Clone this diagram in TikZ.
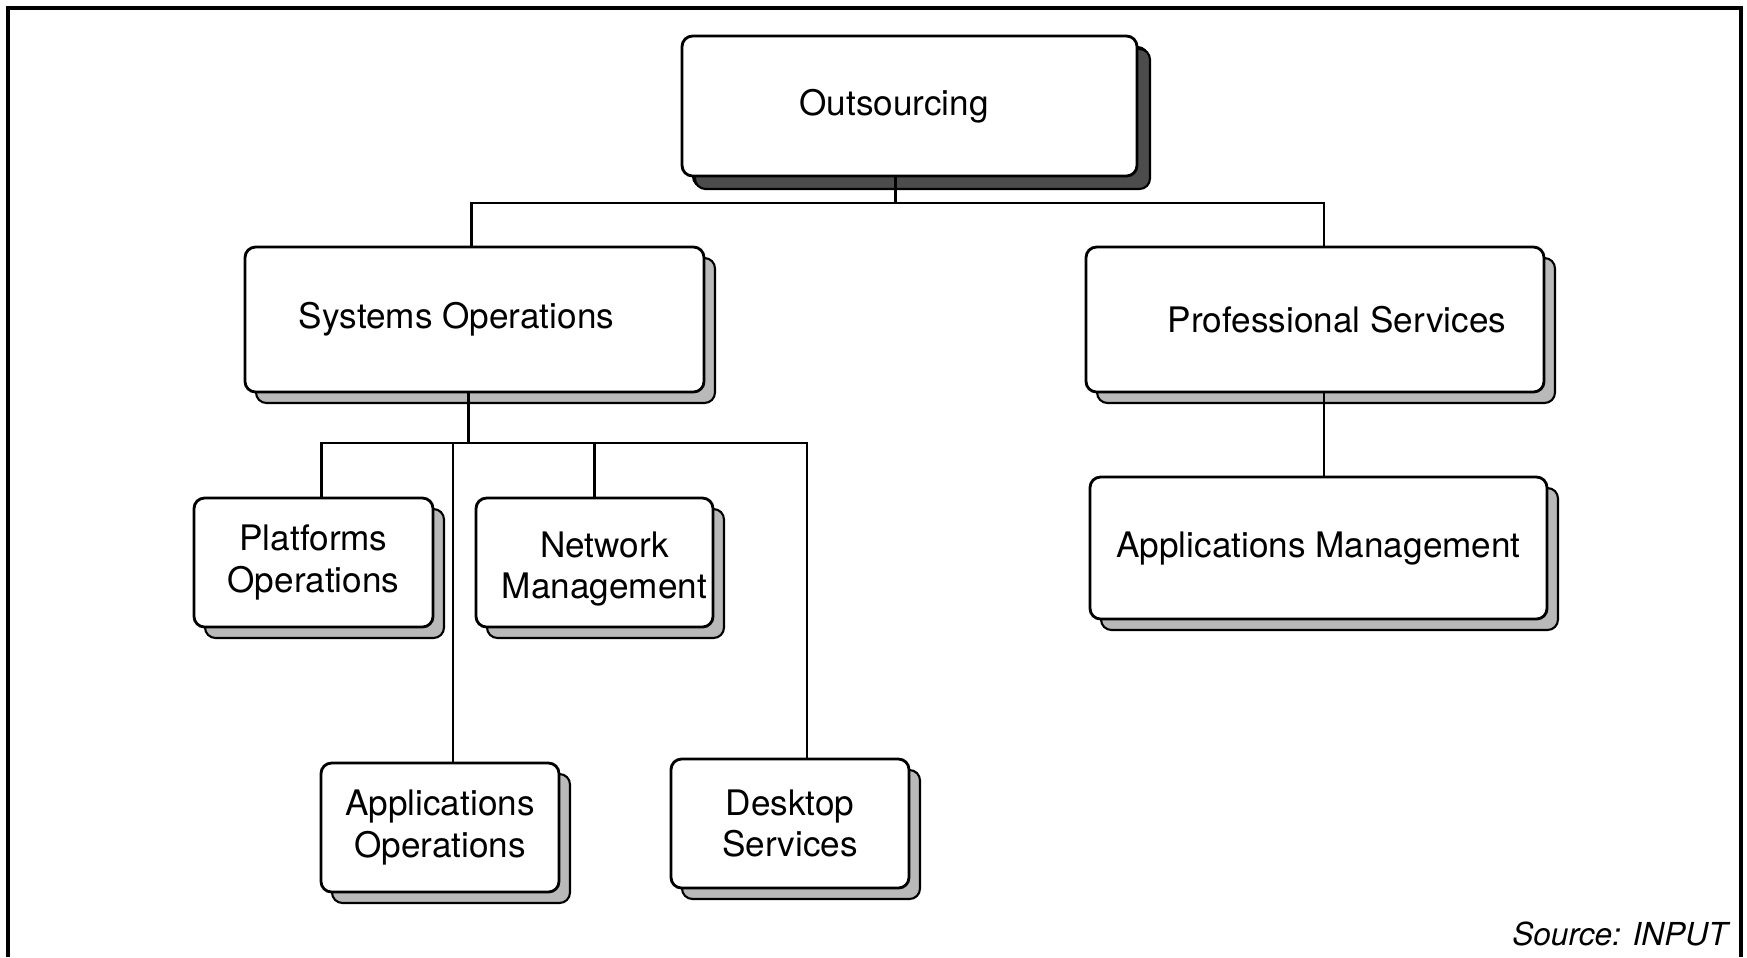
\documentclass[tikz,border=0pt]{standalone}
\usepackage{fontspec}
\setmainfont{TeX Gyre Heros}
\usetikzlibrary{shadows}
\begin{document}
\begin{tikzpicture}[
	box/.style={draw=black, fill=white, line width=0.8pt, rounded corners=3pt, align=center,
		font=\fontsize{10}{11.7}\selectfont, inner sep=0pt,
		copy shadow={shadow xshift=0.11cm, shadow yshift=-0.11cm, fill=gray!55, draw=black, line width=0.6pt}},
	topbox/.style={box, copy shadow={shadow xshift=0.13cm, shadow yshift=-0.13cm, fill=black!70, draw=black, line width=0.6pt}},
	link/.style={draw=black, line width=0.6pt},
	frame/.style={draw=black, line width=1pt}]
	
	\useasboundingbox (0,0) rectangle (17.47,-9.57);
	\draw[frame](0.08,-9.57)--(0.08,-0.08)--(17.41,-0.08)--(17.41,-9.57);
	
	\node[topbox, minimum width=4.55cm, minimum height=1.40cm] (out) at (9.095,-1.06) {Outsourcing\hspace*{0.31cm}};
	\node[box, minimum width=4.59cm, minimum height=1.45cm] (sys) at (4.745,-3.195) {Systems Operations\hspace*{0.36cm}};
	\node[box, minimum width=4.58cm, minimum height=1.45cm] (prof) at (13.15,-3.195) {\hspace*{0.44cm}Professional Services};
	\node[box, minimum width=4.57cm, minimum height=1.42cm] (appm) at (13.185,-5.48) {Applications Management};
	\node[box, minimum width=2.39cm, minimum height=1.29cm] (plat) at (3.135,-5.625) {Platforms\\Operations};
	\node[box, minimum width=2.37cm, minimum height=1.29cm] (net) at (5.945,-5.625) {\rule{0pt}{0.38cm}\hspace*{0.2cm}Network\\\hspace*{0.2cm}Management};
	\node[box, minimum width=2.38cm, minimum height=1.29cm] (appo) at (4.40,-8.275) {Applications\\Operations};
	\node[box, minimum width=2.38cm, minimum height=1.29cm] (desk) at (7.90,-8.235) {Desktop\\Services};
	
	\coordinate (obus) at ([xshift=-0.14cm,yshift=-0.26cm]out.south);
	\draw[link](obus|-out.south)--(obus);
	\draw[link]([xshift=-0.03cm]sys.north)|-(obus)-|([xshift=0.09cm]prof.north);
	\draw[link]([xshift=0.09cm]prof.south)--([xshift=0.09cm]prof.south|-appm.north);
	
	\coordinate (sbus) at ([xshift=-0.06cm,yshift=-0.5cm]sys.south);
	\draw[link](sbus|-sys.south)--(sbus);
	\draw[link]([xshift=0.08cm]plat.north)|-(sbus)-|([xshift=0.17cm]desk.north);
	\draw[link](net.north)--(net.north|-sbus);
	\draw[link]([xshift=0.13cm]appo.north)--([xshift=0.13cm]appo.north|-sbus);
	
	\node[anchor=east, font=\fontsize{9}{11}\selectfont\itshape] (src) at (17.40,-9.34) {Source: INPUT};
	
\end{tikzpicture}
\end{document}
